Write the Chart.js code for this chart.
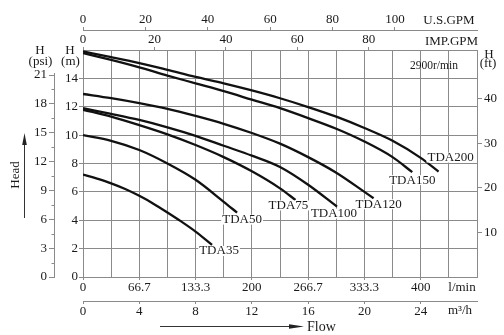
<!DOCTYPE html>
<html>
<head>
<meta charset="utf-8">
<script src="https://cdn.jsdelivr.net/npm/chart.js@4.4.1/dist/chart.umd.min.js"></script>
<style>
  html, body { margin: 0; padding: 0; background: #fff; }
  canvas { display: block; }
</style>
</head>
<body>
<canvas id="pumpChart" width="504" height="335"></canvas>
<script>
// Pump curves, flow in m3/h, head in m
const tda35Flow  = [0, 1, 2, 3, 4, 5, 6, 7, 8, 9.17];
const tda35Head  = [7.22, 6.93, 6.6, 6.2, 5.72, 5.17, 4.55, 3.9, 3.2, 2.26];
const tda50Flow  = [0, 2, 4, 6, 8, 10, 10.95];
const tda50Head  = [10.0, 9.6, 8.95, 8.0, 6.85, 5.3, 4.54];
const tda75Flow  = [0, 2, 4, 6, 8, 10, 12, 14, 15.1];
const tda75Head  = [11.79, 11.3, 10.7, 10.05, 9.3, 8.45, 7.45, 6.25, 5.43];
const tda100Flow = [0, 2, 4, 6, 8, 10, 12, 14, 16, 18.05];
const tda100Head = [11.9, 11.5, 11.07, 10.55, 9.95, 9.25, 8.55, 7.75, 6.5, 4.96];
const tda120Flow = [0, 2, 4, 6, 8, 10, 12, 14, 16, 18, 20, 20.65];
const tda120Head = [12.9, 12.6, 12.25, 11.85, 11.35, 10.8, 10.15, 9.4, 8.45, 7.35, 6.0, 5.55];
const tda150Flow = [0, 2, 4, 6, 8, 10, 12, 14, 16, 18, 20, 22, 23.4];
const tda150Head = [15.79, 15.3, 14.78, 14.2, 13.65, 13.1, 12.5, 11.9, 11.2, 10.45, 9.55, 8.45, 7.39];
const tda200Flow = [0, 2, 4, 6, 8, 10, 12, 14, 16, 18, 20, 22, 24, 25.27];
const tda200Head = [15.9, 15.5, 15.08, 14.6, 14.1, 13.65, 13.15, 12.6, 11.98, 11.3, 10.5, 9.6, 8.4, 7.43];

const models = ['TDA35', 'TDA50', 'TDA75', 'TDA100', 'TDA120', 'TDA150', 'TDA200'];
const flows = [tda35Flow, tda50Flow, tda75Flow, tda100Flow, tda120Flow, tda150Flow, tda200Flow];
const heads = [tda35Head, tda50Head, tda75Head, tda100Head, tda120Head, tda150Head, tda200Head];

// tick labels for each axis
const lpmLabels = ['0', '66.7', '133.3', '200', '266.7', '333.3', '400'];
const m3hLabels = ['0', '4', '8', '12', '16', '20', '24'];
const usGpmLabels = ['0', '20', '40', '60', '80', '100'];
const impGpmLabels = ['0', '20', '40', '60', '80'];
const headMLabels = ['0', '2', '4', '6', '8', '10', '12', '14'];
const headPsiLabels = ['0', '3', '6', '9', '12', '15', '18', '21'];
const headFtLabels = ['10', '20', '30', '40'];

// where each model name sits relative to the end of its curve (px)
const nameOffsets = [[7, 6], [5, 7], [-7, 5.5], [-3, 7], [5, 6], [0, 8], [12, -14]];

const GRID = '#8a8a8a';
const INK = '#1a1a1a';
const SERIF = '"Liberation Serif", "DejaVu Serif", serif';

function pick(labels, v, step, first) {
  const k = v / step - (first || 0);
  if (Math.abs(k - Math.round(k)) > 1e-6) return '';
  const i = Math.round(k);
  return (i >= 0 && i < labels.length) ? labels[i] : '';
}
function tickColorFor(labels, step, first) {
  return ctx => (ctx.tick && pick(labels, ctx.tick.value, step, first) !== '') ? GRID : 'rgba(0,0,0,0)';
}
const tickFont = { family: SERIF, size: 13 };

const decorations = {
  id: 'decorations',
  afterDraw(chart) {
    const { ctx, scales } = chart;
    const sx = scales.x, sy = scales.y, psi = scales.psi;
    ctx.save();
    ctx.fillStyle = INK;
    ctx.strokeStyle = GRID;
    ctx.lineWidth = 1;

    // psi axis line with short minor ticks
    const px = Math.round(psi.right) - 0.5;
    ctx.beginPath();
    ctx.moveTo(px, psi.getPixelForValue(0));
    ctx.lineTo(px, psi.getPixelForValue(21) - 2);
    for (let v = 1.5; v < 21; v += 3) {
      const y = Math.round(psi.getPixelForValue(v)) + 0.5;
      ctx.moveTo(px - 3, y);
      ctx.lineTo(px, y);
    }
    ctx.stroke();

    // curve names
    ctx.font = '13px ' + SERIF;
    ctx.textAlign = 'center';
    ctx.textBaseline = 'middle';
    models.forEach((name, i) => {
      const f = flows[i], h = heads[i];
      const x = sx.getPixelForValue(f[f.length - 1]) + nameOffsets[i][0];
      const y = sy.getPixelForValue(h[h.length - 1]) + nameOffsets[i][1];
      const w = ctx.measureText(name).width;
      ctx.fillStyle = '#fff';
      ctx.fillRect(x - w / 2 - 1, y - 5, w + 2, 10);
      ctx.fillStyle = INK;
      ctx.fillText(name, x, y);
    });

    // axis titles and units
    ctx.fillText('H', 40, 51);
    ctx.fillText('(psi)', 40.5, 62);
    ctx.fillText('H', 70, 51);
    ctx.fillText('(m)', 70.5, 62);
    ctx.fillText('H', 489, 55);
    ctx.fillText('(ft)', 488, 64);
    ctx.fillText('U.S.GPM', 449, 21);
    ctx.fillText('IMP.GPM', 451.5, 42);
    ctx.fillText('l/min', 462, 288);
    ctx.fillText('m³/h', 460, 311);
    ctx.font = '11.5px ' + SERIF;
    ctx.fillText('2900r/min', 434, 66);

    // Flow arrow
    ctx.font = '14px ' + SERIF;
    ctx.textAlign = 'left';
    ctx.fillText('Flow', 307, 327);
    ctx.strokeStyle = '#333';
    ctx.beginPath();
    ctx.moveTo(160, 326.5);
    ctx.lineTo(292, 326.5);
    ctx.stroke();
    ctx.fillStyle = '#222';
    ctx.beginPath();
    ctx.moveTo(289, 324.2);
    ctx.lineTo(304, 326.5);
    ctx.lineTo(289, 328.8);
    ctx.closePath();
    ctx.fill();

    // Head arrow
    ctx.beginPath();
    ctx.moveTo(24.5, 218);
    ctx.lineTo(24.5, 142);
    ctx.stroke();
    ctx.beginPath();
    ctx.moveTo(22.2, 145);
    ctx.lineTo(24.5, 133);
    ctx.lineTo(26.8, 145);
    ctx.closePath();
    ctx.fill();
    ctx.fillStyle = INK;
    ctx.font = '13px ' + SERIF;
    ctx.translate(16, 175);
    ctx.rotate(-Math.PI / 2);
    ctx.textAlign = 'center';
    ctx.fillText('Head', 0, 0);
    ctx.restore();
  }
};

new Chart(document.getElementById('pumpChart'), {
  type: 'scatter',
  data: {
    datasets: models.map((name, i) => ({
      label: name,
      data: flows[i].map((x, j) => ({ x: x, y: heads[i][j] })),
      showLine: true,
      borderColor: '#111',
      borderWidth: 2.3,
      pointRadius: 0,
      cubicInterpolationMode: 'monotone'
    }))
  },
  options: {
    responsive: false,
    animation: false,
    devicePixelRatio: 1,
    layout: { padding: { top: 0, left: 0, right: 0, bottom: 14 } },
    plugins: { legend: { display: false }, tooltip: { enabled: false } },
    scales: {
      x: {
        type: 'linear', position: 'bottom', min: 0, max: 28,
        afterFit: s => { s.height = 24; },
        grid: { color: GRID, tickLength: 3, tickColor: tickColorFor(lpmLabels, 4) },
        border: { color: GRID },
        ticks: { stepSize: 2, autoSkip: false, maxRotation: 0, padding: 0, includeBounds: false,
          color: INK, font: tickFont, callback: v => pick(lpmLabels, v, 4) }
      },
      m3h: {
        type: 'linear', position: 'bottom', min: 0, max: 28,
        afterFit: s => { s.height = 20; },
        grid: { drawOnChartArea: false, tickLength: 3, tickColor: tickColorFor(m3hLabels, 4) },
        border: { color: GRID },
        ticks: { stepSize: 4, autoSkip: false, maxRotation: 0, padding: 0, includeBounds: false,
          color: INK, font: tickFont, callback: v => pick(m3hLabels, v, 4) }
      },
      imp: {
        type: 'linear', position: 'top', min: 0, max: 110.3,
        afterFit: s => { s.height = 20; },
        grid: { drawOnChartArea: false, tickLength: 3, tickColor: tickColorFor(impGpmLabels, 20) },
        border: { color: GRID },
        ticks: { stepSize: 20, autoSkip: false, maxRotation: 0, padding: 0, includeBounds: false,
          color: INK, font: tickFont, callback: v => pick(impGpmLabels, v, 20) }
      },
      us: {
        type: 'linear', position: 'top', min: 0, max: 126.3,
        afterFit: s => { s.height = 30; },
        grid: { drawOnChartArea: false, tickLength: 3, tickColor: tickColorFor(usGpmLabels, 20) },
        border: { color: GRID },
        ticks: { stepSize: 20, autoSkip: false, maxRotation: 0, padding: 0, includeBounds: false,
          color: INK, font: tickFont, callback: v => pick(usGpmLabels, v, 20) }
      },
      y: {
        type: 'linear', position: 'left', min: 0, max: 16,
        afterFit: s => { s.width = 28; },
        grid: { color: GRID, tickLength: 4, tickColor: tickColorFor(headMLabels, 2) },
        border: { color: GRID },
        ticks: { stepSize: 2, autoSkip: false, padding: 1, includeBounds: false,
          color: INK, font: tickFont, callback: v => pick(headMLabels, v, 2) }
      },
      psi: {
        type: 'linear', position: 'left', min: 0, max: 23.6,
        afterFit: s => { s.width = 55; },
        grid: { drawOnChartArea: false, tickLength: 6, tickColor: tickColorFor(headPsiLabels, 3) },
        border: { display: false },
        ticks: { stepSize: 1.5, autoSkip: false, padding: 2, includeBounds: false,
          color: INK, font: tickFont, callback: v => pick(headPsiLabels, v, 3) }
      },
      ft: {
        type: 'linear', position: 'right', min: 0, max: 51,
        afterFit: s => { s.width = 27; },
        grid: { drawOnChartArea: false, tickLength: 5, tickColor: tickColorFor(headFtLabels, 10, 1) },
        border: { color: GRID },
        ticks: { stepSize: 10, autoSkip: false, padding: 2, includeBounds: false,
          color: INK, font: tickFont, callback: v => pick(headFtLabels, v, 10, 1) }
      }
    }
  },
  plugins: [decorations]
});
</script>
</body>
</html>
